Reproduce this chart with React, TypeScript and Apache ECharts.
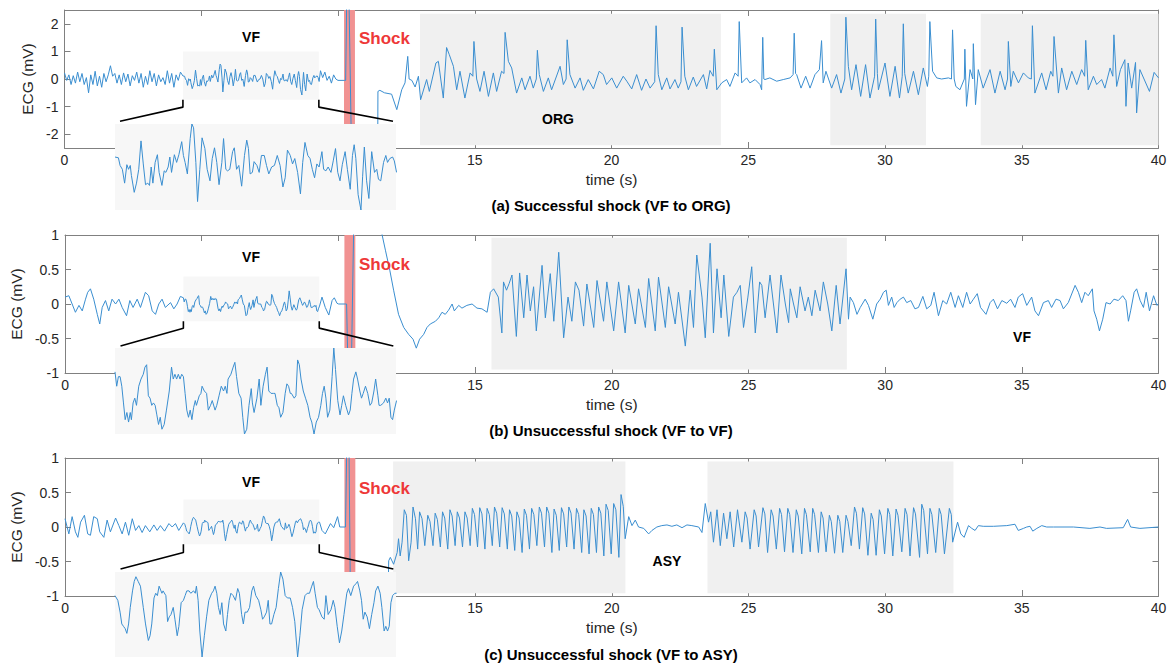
import React, { useEffect, useRef } from "react";
import * as echarts from "echarts";

// ---------------- DATA (time in s, ECG in mV) ----------------
// Panel (a): pre-shock VF before the zoom window, uniform sampling
const A_PRE_DT = 0.08;
const A_PRE: number[] = [
  0.22, -0.05, 0.15, -0.2, 0.12, -0.15, 0.25, -0.1, 0.2, -0.2, 0.05, -0.5, 0.15,
  -0.2, 0.28, -0.25, 0.1, -0.3, 0.2, -0.1, 0.15, 0.48, 0.1, 0.2, -0.15,
  0.15, -0.2, 0.22, -0.1, 0.18, -0.25, 0.12, -0.05, 0.25, -0.15, 0.2, -0.3, 0.1,
  -0.2, 0.3, -0.1, 0.2, -0.25, 0.15, -0.1, 0.05, -0.2, 0.3, -0.15, 0.2,
  -0.3, 0.15, -0.05, 0.25,
];
// Panel (a): VF window (zoomed in the inset)
const A_VF: number[][] = [
  [4.33, 0.11], [4.39, 0.1], [4.42, 0.0], [4.46, -0.05], [4.5, -0.23], [4.54, 0.01], [4.57, -0.05], [4.6, 0.0],
  [4.62, -0.13], [4.67, -0.35], [4.71, -0.23], [4.75, -0.05], [4.79, 0.32], [4.83, 0.02], [4.87, -0.25],
  [4.91, -0.23], [4.94, -0.26], [4.97, -0.02], [5.0, -0.23], [5.04, 0.04], [5.08, 0.14], [5.11, -0.09],
  [5.16, -0.26], [5.2, -0.07], [5.23, -0.09], [5.27, -0.02], [5.3, 0.11], [5.33, -0.09], [5.38, 0.14],
  [5.42, 0.04], [5.46, 0.14], [5.51, 0.31], [5.54, 0.13], [5.57, 0.04], [5.61, -0.11], [5.66, 0.35],
  [5.69, 0.54], [5.72, 0.49], [5.76, 0.04], [5.79, -0.47], [5.83, -0.05], [5.87, 0.36], [5.92, 0.22],
  [5.96, -0.05], [6.01, -0.2], [6.05, 0.09], [6.09, 0.23], [6.13, 0.04], [6.17, -0.25], [6.22, 0.04],
  [6.25, 0.35], [6.29, -0.05], [6.32, -0.07], [6.36, -0.05], [6.41, 0.18], [6.44, 0.23], [6.48, -0.05],
  [6.52, 0.0], [6.57, -0.27], [6.62, 0.13], [6.66, 0.33], [6.69, 0.22], [6.72, -0.11], [6.76, -0.09],
  [6.79, 0.05], [6.84, 0.0], [6.88, -0.09], [6.92, 0.13], [6.97, 0.13], [7.01, 0.0], [7.05, -0.11],
  [7.1, -0.02], [7.15, 0.0], [7.2, 0.13], [7.25, 0.0], [7.3, -0.28], [7.34, -0.16], [7.38, 0.2],
  [7.43, 0.13], [7.47, 0.02], [7.51, 0.09], [7.56, -0.09], [7.61, -0.37], [7.65, 0.04], [7.69, 0.3],
  [7.74, 0.13], [7.78, 0.09], [7.82, -0.05], [7.86, -0.16], [7.9, 0.02], [7.94, -0.02], [7.99, 0.18],
  [8.02, -0.05], [8.06, -0.07], [8.1, -0.02], [8.15, -0.09], [8.19, 0.06], [8.23, 0.22], [8.27, -0.09],
  [8.31, -0.2], [8.35, 0.01], [8.4, 0.18], [8.44, -0.05], [8.49, -0.31], [8.53, 0.13], [8.56, 0.27],
  [8.59, 0.09], [8.63, -0.38], [8.68, -0.58], [8.71, -0.14], [8.74, 0.24], [8.78, -0.2], [8.82, -0.43],
  [8.87, 0.18], [8.92, -0.09], [8.96, -0.05], [8.99, -0.18], [9.03, -0.2], [9.08, 0.04], [9.12, 0.13],
  [9.15, 0.04], [9.19, 0.09], [9.24, 0.11], [9.27, 0.06], [9.31, -0.09],
];
const A_PRE2: number[][] = [
  [9.36, 0.3], [9.44, 0.05], [9.52, 0.25], [9.6, -0.05], [9.68, 0.1], [9.76, -0.15], [9.84, 0.15],
  [9.92, 0], [10.0, -0.05], [10.24, -0.05],
];
const A_SHOCK: number[][] = [[10.28, -0.05], [10.32, 3], [10.4, 3], [10.5, -3], [11.45, -3]];
const A_POST: number[][] = [
  [11.46, -0.45], [11.53, -0.41], [11.7, -0.5], [11.96, -0.55], [12.15, -1.11], [12.33, -0.39], [12.45, -0.14],
  [12.55, 0.82], [12.6, 0.0], [12.7, -0.05], [12.82, -0.29], [12.94, 0.1], [13.02, -0.75], [13.24, -0.02],
  [13.34, -0.45], [13.58, 0.58], [13.67, 0.64], [13.85, -0.69], [13.97, 1.14], [14.07, 0.88], [14.22, 0.46],
  [14.34, -0.39], [14.46, 0.28], [14.64, -0.69], [14.83, 0.22], [14.93, 0.1], [14.97, 1.36], [15.07, 0.0],
  [15.19, -0.45], [15.34, 0.28], [15.5, -0.63], [15.68, 0.22], [15.8, -0.45], [15.98, 0.28], [16.07, 0.2],
  [16.11, 1.69], [16.23, 0.64], [16.35, 0.4], [16.53, -0.51], [16.72, 0.04], [16.84, -0.39], [17.02, 0.1],
  [17.14, -0.33], [17.25, 0.0], [17.29, 1.04], [17.36, 0.16], [17.51, -0.45], [17.69, 0.04], [17.81, -0.39],
  [18.12, 0.46], [18.24, -0.2], [18.34, 0.0], [18.38, 1.42], [18.48, 0.16], [18.67, -0.33], [18.85, 0.04],
  [18.97, -0.41], [19.15, -0.02], [19.34, -0.36], [19.55, 0.28], [19.7, 0.16], [19.82, -0.2], [20.01, 0.04],
  [20.19, -0.33], [20.43, 0.1], [20.56, -0.08], [20.74, -0.36], [20.92, 0.16], [21.1, -0.41], [21.26, 0.0],
  [21.41, -0.33], [21.58, -0.1], [21.63, 1.93], [21.71, 0.16], [21.84, -0.39], [22.02, 0.04], [22.14, -0.36],
  [22.32, -0.02], [22.44, -0.33], [22.54, -0.1], [22.58, 1.88], [22.68, 0.1], [22.81, -0.39], [22.99, 0.07],
  [23.11, -0.27], [23.36, 0.16], [23.48, -0.36], [23.6, 0.31], [23.72, 0.1], [23.76, 1.08], [23.85, -0.39],
  [24.03, -0.14], [24.21, -0.02], [24.33, -0.27], [24.52, 0.22], [24.63, 0.1], [24.67, 2.08],
  [24.76, -0.14], [24.94, 0.04], [25.06, -0.14], [25.25, -0.02], [25.43, -0.2], [25.49, -0.39], [25.53, 1.51],
  [25.57, 0], [25.61, -0.02], [25.79, 0.04], [26.04, -0.08], [26.28, -0.02], [26.53, 0.04], [26.64, 0.16],
  [26.68, 1.66], [26.73, 0.2], [26.77, 0.16], [26.93, -0.33], [27.1, 0.1], [27.26, -0.33], [27.44, 0.16],
  [27.6, 0.34], [27.68, 1.39], [27.74, -0.14], [27.84, 0.28], [28.05, -0.33], [28.23, 0.16], [28.39, -0.51],
  [28.53, 0.0], [28.57, 2.24], [28.66, 0.46], [28.78, -0.39], [28.94, 0.52], [29.11, -0.63], [29.29, 0.52],
  [29.45, -0.69], [29.62, 0.1], [29.66, 2.17], [29.72, 0.2], [29.76, -0.39], [30.0, 0.58], [30.18, -0.63],
  [30.37, 0.46], [30.53, -0.69], [30.63, 0.1], [30.67, 2.0], [30.72, 0.2], [30.85, -0.51], [31.04, 0.28],
  [31.22, -0.57], [31.4, 0.4], [31.55, -0.27], [31.6, 0.1], [31.64, 2.08], [31.74, 0.28], [31.89, 0.04],
  [32.07, 0.0], [32.32, 0.04], [32.43, 0.0], [32.47, 1.78], [32.53, 0.0], [32.59, -0.27], [32.74, -0.39],
  [32.9, 0.0], [32.92, 1.08], [32.98, -0.99], [33.11, 0.34], [33.21, 0.0], [33.23, 1.28], [33.31, -0.93],
  [33.41, 0.34], [33.59, -0.33], [33.84, 0.34], [34.02, -0.51], [34.21, 0.28], [34.39, -0.39], [34.48, 0.0],
  [34.51, 1.36], [34.6, -0.27], [34.69, 0.28], [34.88, -0.14], [35.06, 0.22], [35.24, 0.04], [35.35, 0.0],
  [35.39, 1.93], [35.48, -0.51], [35.73, 0.22], [35.89, -0.39], [36.06, 0.28], [36.14, 0.1], [36.18, 1.54],
  [36.34, -0.51], [36.46, 0.4], [36.64, -0.39], [36.83, 0.28], [37.01, -0.2], [37.19, 0.34], [37.3, 0.1],
  [37.34, 1.4], [37.43, -0.39], [37.62, 0.1], [37.74, -0.2], [37.92, -0.02], [38.04, -0.33], [38.23, 0.4],
  [38.33, 0.1], [38.37, 1.6], [38.47, -0.27], [38.61, 0.34], [38.77, 0.7], [38.81, -0.99], [38.89, 0.58],
  [39.02, -0.33], [39.16, 0.6], [39.2, -1.23], [39.32, 0.34], [39.67, -0.45], [39.84, 0.24], [40.0, 0.04],
];

// Panel (b)
const B_PRE: number[][] = [
  [0, 0.1], [0.14, 0.12], [0.26, 0], [0.38, -0.12], [0.51, -0.02], [0.63, -0.1], [0.75, 0.07], [0.83, 0.17],
  [0.93, 0.22], [1.05, 0.07], [1.18, -0.15], [1.27, -0.29], [1.36, -0.05], [1.48, 0.05], [1.6, -0.1],
  [1.72, 0.07], [1.85, 0], [1.97, 0.07], [2.09, -0.05], [2.25, -0.17], [2.37, 0.05], [2.49, -0.05],
  [2.64, 0.07], [2.76, -0.05], [2.94, 0.17], [3.06, 0.12], [3.19, -0.1], [3.31, -0.15], [3.43, 0],
  [3.55, 0.07], [3.67, -0.05], [3.86, 0.02], [3.98, -0.07], [4.1, 0], [4.22, 0.11],
];
const B_VF: number[][] = [
  [4.33, 0.09], [4.36, 0.03], [4.39, 0.07], [4.42, 0.07], [4.45, 0.03], [4.48, -0.04], [4.51, -0.11],
  [4.54, -0.08], [4.57, -0.12], [4.6, -0.08], [4.62, -0.11], [4.65, -0.04], [4.68, -0.02], [4.71, -0.05],
  [4.75, 0.03], [4.79, 0.06], [4.83, 0.08], [4.86, 0.11], [4.89, 0.12], [4.92, -0.01], [4.95, -0.02],
  [4.98, -0.05], [5.01, -0.04], [5.04, -0.05], [5.07, -0.09], [5.1, -0.13], [5.13, -0.1], [5.16, -0.15],
  [5.2, -0.13], [5.24, -0.07], [5.29, 0.01], [5.33, 0.11], [5.36, 0.06], [5.39, 0.08], [5.42, 0.06],
  [5.45, 0.08], [5.48, 0.06], [5.51, 0.08], [5.54, 0.07], [5.57, 0.0], [5.6, -0.07], [5.63, -0.1],
  [5.66, -0.07], [5.69, -0.11], [5.72, -0.06], [5.75, -0.03], [5.77, -0.05], [5.82, -0.01], [5.85, 0.0],
  [5.87, 0.03], [5.91, 0.01], [5.95, 0.0], [5.98, -0.07], [6.02, -0.05], [6.05, -0.03], [6.1, -0.07],
  [6.13, -0.05], [6.17, -0.01], [6.21, 0.03], [6.25, 0.01], [6.28, 0.03], [6.31, 0.0], [6.33, 0.06],
  [6.38, 0.08], [6.42, 0.11], [6.45, 0.13], [6.48, 0.07], [6.52, 0.0], [6.56, -0.02], [6.59, -0.1],
  [6.62, -0.17], [6.66, -0.15], [6.7, -0.05], [6.74, 0.02], [6.76, -0.04], [6.79, -0.08], [6.84, -0.02],
  [6.88, 0.06], [6.91, -0.05], [6.95, 0.03], [6.99, 0.08], [7.02, 0.11], [7.05, 0.01], [7.09, 0.0],
  [7.13, 0.0], [7.16, 0.0], [7.2, -0.05], [7.23, -0.06], [7.26, -0.1], [7.3, -0.08], [7.34, 0.0],
  [7.37, 0.04], [7.4, 0.03], [7.43, 0.0], [7.45, 0.0], [7.5, -0.02], [7.53, -0.01], [7.56, 0.14],
  [7.59, 0.12], [7.62, 0.06], [7.66, 0.01], [7.7, -0.02], [7.74, -0.05], [7.78, -0.1], [7.81, -0.12],
  [7.85, -0.17], [7.89, -0.12], [7.93, -0.1], [7.97, -0.05], [8.0, 0.0], [8.03, 0.03], [8.06, -0.02],
  [8.09, -0.1], [8.13, -0.07], [8.17, 0.07], [8.2, 0.19], [8.23, 0.1], [8.27, -0.03], [8.31, -0.09],
  [8.34, -0.05], [8.37, -0.01], [8.41, -0.05], [8.46, -0.09], [8.49, -0.07], [8.52, 0.0], [8.55, 0.06],
  [8.59, 0.09], [8.62, 0.06], [8.66, 0.01], [8.69, -0.02], [8.72, 0.0], [8.76, 0.03], [8.8, 0.0],
  [8.84, -0.05], [8.87, -0.04], [8.91, 0.01], [8.94, 0.06], [8.98, -0.01], [9.0, -0.05], [9.03, -0.05],
  [9.08, -0.04], [9.12, -0.02], [9.15, -0.04], [9.18, -0.02], [9.21, -0.1], [9.24, -0.11], [9.27, -0.07],
  [9.31, -0.03],
];
const B_PRE2: number[][] = [
  [9.4, 0.1], [9.52, -0.05], [9.65, -0.16], [9.77, 0.05], [9.85, 0.09], [9.95, 0.01], [10.01, 0], [10.26, 0],
];
const B_SHOCK: number[][] = [[10.3, 0], [10.38, -1.5], [10.45, -1.5], [10.58, 1.6], [11.3, 1.6], [11.5, 1.2]];
const B_POST: number[][] = [
  [11.6, 1.0], [11.72, 0.78], [11.88, 0.49], [12.02, 0.2], [12.2, -0.15], [12.39, -0.34], [12.57, -0.44],
  [12.73, -0.51], [12.85, -0.64], [12.97, -0.51], [13.12, -0.44], [13.24, -0.34], [13.36, -0.29],
  [13.55, -0.25], [13.67, -0.2], [13.79, -0.12], [13.91, -0.15], [14.03, -0.09], [14.16, 0], [14.24, -0.1],
  [14.4, -0.02], [14.52, -0.06], [14.7, -0.02], [14.89, 0], [15.07, -0.06], [15.25, -0.07], [15.44, -0.12],
  [15.56, 0.17], [15.68, 0.22], [15.85, 0.1], [15.98, -0.42], [16.04, 0.32], [16.15, 0.2], [16.25, 0.3],
  [16.35, 0.42], [16.51, -0.47], [16.63, 0.45], [16.78, -0.2], [16.9, 0.42], [17.02, -0.1], [17.14, 0.25],
  [17.24, -0.39], [17.45, 0.56], [17.57, -0.2], [17.75, 0.44], [17.88, -0.25], [18.06, 0.75], [18.24, -0.49],
  [18.4, 0.1], [18.54, -0.25], [18.67, 0.32], [18.8, 0.2], [18.97, -0.32], [19.09, 0.29], [19.34, -0.34],
  [19.46, 0.34], [19.7, -0.25], [19.82, 0.32], [20.07, -0.39], [20.25, 0.32], [20.49, -0.42], [20.62, 0.27],
  [20.86, -0.29], [20.98, 0.22], [21.23, -0.34], [21.35, 0.37], [21.59, -0.39], [21.71, 0.39], [21.96, -0.34],
  [22.08, 0.25], [22.32, -0.29], [22.44, 0.17], [22.69, -0.61], [22.87, 0.2], [22.99, -0.34], [23.11, 0.71],
  [23.3, 0.1], [23.42, -0.49], [23.6, 0.88], [23.72, -0.42], [23.85, 0.51], [24.0, -0.2], [24.1, 0.42],
  [24.28, -0.47], [24.45, 0.1], [24.58, 0.17],
  [24.7, 0.27], [24.82, -0.34], [24.98, 0.1], [25.12, 0.54], [25.25, -0.42], [25.41, 0.32], [25.49, 0.27],
  [25.61, -0.2], [25.79, 0.42], [26.04, -0.42], [26.19, 0.42], [26.35, 0.0], [26.47, -0.27], [26.53, 0.22],
  [26.65, 0.0], [26.77, -0.2], [26.89, 0.25], [27.07, -0.1], [27.19, 0.1], [27.32, -0.17], [27.44, 0.2],
  [27.62, -0.1], [27.74, 0.32], [27.9, 0.0], [28.05, -0.39], [28.21, 0.27], [28.35, -0.29], [28.57, 0.51],
  [28.66, -0.22],
  [28.72, 0.1], [28.84, 0.02], [28.97, -0.15], [29.09, -0.05], [29.27, 0.07], [29.39, -0.02], [29.55, -0.22],
  [29.69, 0], [29.82, 0.07], [29.94, 0.17], [30.04, 0.2], [30.12, -0.02], [30.24, 0.1], [30.33, -0.05],
  [30.43, 0.02], [30.55, 0.07], [30.67, 0.1], [30.79, 0.02], [30.94, 0.05], [31.09, -0.07], [31.22, -0.05],
  [31.38, 0.11], [31.52, -0.07], [31.67, -0.02], [31.79, 0.17], [31.95, -0.17], [32.11, 0.05], [32.25, 0],
  [32.4, 0.17], [32.56, -0.05], [32.68, 0.12], [32.84, -0.05], [32.98, 0.17], [33.11, 0], [33.23, 0.07],
  [33.37, 0.15], [33.49, -0.05], [33.69, -0.15], [33.84, 0.02], [33.96, 0.07], [34.11, -0.07], [34.27, 0.05],
  [34.45, 0.01], [34.59, 0.07], [34.75, -0.05], [34.87, 0.1], [35.03, 0.15], [35.18, -0.02], [35.36, 0.1],
  [35.48, -0.1], [35.61, -0.17], [35.79, 0.02], [35.97, 0.05], [36.09, -0.05], [36.25, 0.07], [36.4, 0.05],
  [36.52, -0.07], [36.7, 0.02], [36.95, 0.27], [37.07, 0.17], [37.19, 0.02], [37.31, 0.17], [37.43, 0.12],
  [37.58, 0.22], [37.64, -0.1], [37.74, -0.22], [37.84, -0.39], [37.96, -0.22], [38.08, 0.02], [38.23, 0],
  [38.37, 0.07], [38.53, 0.05], [38.69, 0.12], [38.81, 0.05], [38.9, -0.25], [38.98, -0.1], [39.11, 0.17],
  [39.2, 0.22], [39.33, 0.05], [39.45, -0.05], [39.55, 0.17], [39.67, -0.1], [39.82, 0.12], [39.94, -0.02],
  [40.0, 0],
];

// Panel (c)
const C_PRE: number[][] = [
  [0, 0.12], [0.14, -0.1], [0.26, 0.15], [0.38, -0.07], [0.47, -0.15], [0.57, 0.07], [0.71, 0.17], [0.83, -0.1],
  [0.93, -0.12], [1.05, 0.15], [1.18, 0.12], [1.27, -0.07], [1.42, -0.15], [1.54, 0.1], [1.66, -0.07],
  [1.85, 0.13], [1.97, 0.02], [2.09, -0.1], [2.21, 0.07], [2.33, -0.12], [2.46, 0.12], [2.58, -0.05],
  [2.7, 0.02], [2.82, -0.08], [2.94, 0.02], [3.1, -0.07], [3.25, 0.03], [3.37, -0.05], [3.49, 0.02],
  [3.64, -0.06], [3.8, 0.05], [3.92, 0], [4.04, 0.05], [4.16, -0.05],
];
const C_VF: number[][] = [
  [4.33, 0.06], [4.38, 0.04], [4.42, -0.01], [4.45, -0.06], [4.48, -0.07], [4.51, -0.08], [4.54, -0.1],
  [4.57, -0.06], [4.6, 0.01], [4.64, 0.08], [4.67, 0.12], [4.7, 0.14], [4.74, 0.12], [4.78, 0.1],
  [4.83, 0.01], [4.87, -0.06], [4.92, -0.13], [4.95, -0.11], [4.98, -0.06], [5.02, 0.05], [5.05, 0.07],
  [5.08, 0.06], [5.11, 0.1], [5.16, 0.07], [5.18, 0.08], [5.23, 0.06], [5.26, -0.05], [5.29, -0.03],
  [5.32, -0.02], [5.36, 0.01], [5.39, -0.04], [5.43, -0.11], [5.46, -0.07], [5.5, 0.03], [5.54, 0.04],
  [5.57, 0.06], [5.6, 0.08], [5.64, 0.08], [5.67, 0.07], [5.72, 0.08], [5.75, 0.07], [5.77, 0.1],
  [5.8, 0.04], [5.83, -0.09], [5.87, -0.2], [5.91, -0.11], [5.95, -0.03], [5.99, 0.04], [6.04, 0.07],
  [6.07, 0.08], [6.1, 0.1], [6.13, 0.07], [6.16, 0.01], [6.19, -0.02], [6.22, 0.03], [6.25, -0.06],
  [6.29, -0.09], [6.32, -0.02], [6.35, 0.04], [6.38, 0.07], [6.42, 0.06], [6.46, 0.04], [6.5, 0.09],
  [6.53, 0.07], [6.57, -0.02], [6.6, -0.06], [6.63, -0.01], [6.67, -0.01], [6.71, 0.01], [6.75, 0.08],
  [6.78, 0.1], [6.82, 0.06], [6.87, 0.04], [6.91, 0.0], [6.94, -0.04], [6.97, -0.03], [7.01, -0.01],
  [7.04, 0.04], [7.07, -0.06], [7.1, -0.06], [7.14, -0.02], [7.18, 0.01], [7.22, 0.09], [7.26, 0.16],
  [7.3, 0.13], [7.34, 0.06], [7.38, 0.05], [7.43, 0.05], [7.47, 0.01], [7.51, -0.05], [7.56, -0.2],
  [7.6, -0.11], [7.64, 0.0], [7.69, 0.06], [7.73, 0.07], [7.77, 0.07], [7.81, 0.1], [7.84, 0.12],
  [7.87, 0.07], [7.91, 0.01], [7.94, 0.0], [7.99, -0.03], [8.03, -0.04], [8.06, 0.06], [8.1, -0.02],
  [8.15, 0.0], [8.19, 0.04], [8.22, 0.01], [8.26, -0.07], [8.3, -0.14], [8.34, -0.09], [8.38, -0.02],
  [8.43, 0.07], [8.46, 0.09], [8.5, 0.06], [8.55, 0.1], [8.59, 0.11], [8.62, 0.12], [8.66, 0.08],
  [8.69, 0.04], [8.72, -0.04], [8.75, -0.01], [8.79, -0.03], [8.83, -0.08], [8.87, -0.02], [8.91, 0.03],
  [8.94, 0.08], [8.98, 0.1], [9.02, 0.07], [9.05, 0.01], [9.09, -0.09], [9.12, -0.07], [9.15, -0.09],
  [9.18, -0.07], [9.21, 0.03], [9.24, 0.06], [9.28, 0.07], [9.31, 0.07],
];
const C_PRE2: number[][] = [
  [9.4, -0.05], [9.52, -0.1], [9.71, 0.05], [9.83, -0.01], [9.97, 0.15], [10.05, 0], [10.26, 0],
];
const C_SHOCK: number[][] = [[10.28, 0], [10.32, 1.5], [10.38, 1.5], [10.45, -1.5], [11.8, -1.5]];
const C_POST: number[][] = [
  [11.84, -0.49], [11.9, -0.44], [12.02, -0.54], [12.15, -0.37], [12.2, -0.17], [12.26, -0.42], [12.33, -0.22],
  [12.41, 0.25], [12.49, 0.17], [12.57, -0.49], [12.66, -0.22], [12.73, 0.29], [12.82, 0.12], [12.9, -0.32],
  [12.97, 0.22], [13.06, 0.12], [13.16, -0.27],
  [13.27, 0.17], [13.35, 0.08], [13.46, -0.27], [13.54, 0.2], [13.62, 0.11], [13.73, -0.29],
  [13.81, 0.22], [13.89, 0.13], [14.0, -0.32], [14.08, 0.25], [14.16, 0.16], [14.27, -0.27],
  [14.35, 0.22], [14.43, 0.13], [14.54, -0.29], [14.63, 0.22], [14.71, 0.13], [14.82, -0.27],
  [14.9, 0.27], [14.98, 0.18], [15.09, -0.29], [15.17, 0.28], [15.25, 0.19], [15.36, -0.32],
  [15.44, 0.27], [15.52, 0.18], [15.63, -0.27], [15.71, 0.29], [15.79, 0.2], [15.9, -0.29],
  [15.99, 0.28], [16.07, 0.19], [16.18, -0.32], [16.26, 0.25], [16.34, 0.16], [16.45, -0.34],
  [16.53, 0.22], [16.61, 0.13], [16.72, -0.37], [16.8, 0.26], [16.88, 0.17], [16.99, -0.32],
  [17.07, 0.27], [17.15, 0.18], [17.26, -0.27], [17.35, 0.29], [17.43, 0.2], [17.54, -0.29],
  [17.62, 0.29], [17.7, 0.2], [17.81, -0.37], [17.89, 0.26], [17.97, 0.17], [18.08, -0.34],
  [18.16, 0.28], [18.24, 0.19], [18.35, -0.29], [18.43, 0.29], [18.51, 0.2], [18.62, -0.32],
  [18.71, 0.27], [18.79, 0.18], [18.9, -0.37], [18.98, 0.25], [19.06, 0.16], [19.17, -0.39],
  [19.25, 0.27], [19.33, 0.18], [19.44, -0.37], [19.52, 0.29], [19.6, 0.2], [19.71, -0.42],
  [19.79, 0.33], [19.87, 0.24], [19.98, -0.39], [20.07, 0.34], [20.15, 0.25], [20.26, -0.44],
  [20.34, 0.47], [20.42, 0.3], [20.49, -0.17],
  [20.62, 0.15], [20.74, 0.02], [20.86, 0.1], [20.98, 0], [21.17, -0.02], [21.35, -0.1], [21.47, -0.05],
  [21.65, 0], [21.83, 0.02], [22.02, 0.03], [22.2, 0.01], [22.38, 0.03], [22.57, -0.01], [22.75, 0.03],
  [22.93, 0.02], [23.18, 0], [23.3, -0.08],
  [23.42, 0.34], [23.54, 0.07], [23.62, 0.22], [23.72, -0.22], [23.85, 0.25], [23.97, -0.27], [24.09, 0.2],
  [24.21, -0.17], [24.33, 0.22], [24.46, -0.29], [24.6, 0.25], [24.76, -0.22],
  [24.88, 0.22], [24.95, 0.13], [25.06, -0.32], [25.21, 0.25], [25.28, 0.16], [25.37, -0.29],
  [25.53, 0.28], [25.6, 0.19], [25.7, -0.37], [25.83, 0.25], [25.9, 0.16], [26.02, -0.32],
  [26.14, 0.27], [26.21, 0.18], [26.32, -0.36], [26.44, 0.27], [26.51, 0.18], [26.63, -0.37],
  [26.75, 0.25], [26.82, 0.16], [26.95, -0.39], [27.05, 0.27], [27.12, 0.18], [27.26, -0.36],
  [27.35, 0.27], [27.42, 0.18], [27.56, -0.37], [27.66, 0.22], [27.73, 0.13], [27.84, -0.36],
  [27.96, 0.17], [28.03, 0.08], [28.15, -0.38], [28.27, 0.17], [28.34, 0.08], [28.45, -0.37],
  [28.57, 0.17], [28.64, 0.08], [28.76, -0.27], [28.88, 0.29], [28.95, 0.2], [29.06, -0.32],
  [29.18, 0.28], [29.25, 0.19], [29.37, -0.41], [29.49, 0.2], [29.56, 0.11], [29.67, -0.41],
  [29.79, 0.25], [29.86, 0.16], [29.98, -0.39], [30.1, 0.27], [30.17, 0.18], [30.28, -0.42],
  [30.4, 0.26], [30.47, 0.17], [30.61, -0.36], [30.73, 0.27], [30.8, 0.18], [30.91, -0.42],
  [31.04, 0.28], [31.11, 0.19], [31.26, -0.44], [31.34, 0.33], [31.41, 0.24], [31.55, -0.39],
  [31.64, 0.27], [31.71, 0.18], [31.85, -0.37], [31.98, 0.27], [32.05, 0.18], [32.17, -0.39],
  [32.35, 0.27], [32.42, 0.18], [32.47, -0.22],
  [32.65, 0.07], [32.77, -0.1], [32.89, -0.15], [33.05, 0.02], [33.17, -0.02], [33.29, -0.05], [33.41, 0.02],
  [33.59, 0.01], [33.96, 0.01], [34.45, 0.02], [34.75, 0.04], [34.87, -0.05], [35.06, -0.02], [35.18, 0],
  [35.3, 0.01], [35.4, -0.06], [35.55, -0.02], [35.73, 0.02], [35.91, 0], [36.16, 0], [36.89, 0],
  [37.49, -0.02], [37.86, 0], [38.1, -0.02], [38.71, -0.01], [38.87, 0.11], [38.98, 0], [39.32, -0.02],
  [40, 0],
];

// annotated intervals (s)
const VF_WINDOW = [4.33, 9.3];
const SHOCK_WINDOW = [10.22, 10.62];
const ORG_A = [[13.0, 24.0], [28.0, 31.5], [33.5, 40.0]];
const VF_B = [[15.6, 28.6]];
const VF_C = [[12.0, 20.5], [23.5, 32.5]];
const X_TICKS = [0, 40, 5];
const Y_TICKS_A = [-2, -1, 0, 1, 2];

// ---------------- STYLE / LAYOUT ----------------
const FONT = '"Liberation Sans", Arial, Helvetica, sans-serif';
const AXIS_COLOR = "#808080";
const TEXT_COLOR = "#262626";
const LINE_COLOR = "#3a8ed0";
const GRID_LEFT = 64.5;
const GRID_W = 1094;
const GRID_H = 138;
const GRID_TOPS = [10, 235, 458];
const INSET_LEFT = 115;
const INSET_W = 281;
const INSET_TOPS = [124, 348, 572];
const INSET_HS = [86, 86, 85];

const toPairs = (vals: number[], dt: number) => vals.map((v, i) => [Math.round(i * dt * 100) / 100, v]);

const SIG_A = [...toPairs(A_PRE, A_PRE_DT), ...A_VF, ...A_PRE2, ...A_SHOCK, ...A_POST];
const SIG_B = [...B_PRE, ...B_VF, ...B_PRE2, ...B_SHOCK, ...B_POST];
const SIG_C = [...C_PRE, ...C_VF, ...C_PRE2, ...C_SHOCK, ...C_POST];

const PANELS = [
  {
    sig: SIG_A, yMin: -2.5, yMax: 2.5, yTicks: Y_TICKS_A, nameGap: 22,
    boxes: ORG_A, boxY: [-2.4, 2.36], vfBoxY: [-0.75, 1], shockY: [-1.64, 2.5],
    conn: { yKnee: -1.02, yEnd: -1.53, xL: 2.03, xR: 12.01 },
  },
  {
    sig: SIG_B, yMin: -1, yMax: 1, yTicks: null, nameGap: 36,
    boxes: VF_B, boxY: [-0.95, 0.96], vfBoxY: [-0.25, 0.4], shockY: [-0.66, 1],
    conn: { yKnee: -0.35, yEnd: -0.61, xL: 2.03, xR: 12.01 },
  },
  {
    sig: SIG_C, yMin: -1, yMax: 1, yTicks: null, nameGap: 36,
    boxes: VF_C, boxY: [-0.96, 0.95], vfBoxY: [-0.25, 0.4], shockY: [-0.67, 1],
    conn: { yKnee: -0.37, yEnd: -0.61, xL: 2.03, xR: 12.01 },
  },
];

const CAPTIONS = [
  { text: "(a) Successful shock (VF to ORG)", y: 205 },
  { text: "(b) Unsuccessful shock (VF to VF)", y: 430 },
  { text: "(c) Unsuccessful shock (VF to ASY)", y: 654 },
];
const LABELS = [
  { text: "VF", x: 251, y: 37 },
  { text: "VF", x: 251, y: 257 },
  { text: "VF", x: 251, y: 482 },
  { text: "ORG", x: 558, y: 119 },
  { text: "VF", x: 1022, y: 337 },
  { text: "ASY", x: 667, y: 561 },
];
const SHOCK_LABEL_YS = [38, 264, 488];

function buildOption() {
  const grid: any[] = [];
  const xAxis: any[] = [];
  const yAxis: any[] = [];
  const series: any[] = [];
  const axisLine = { show: true, onZero: false, lineStyle: { color: AXIS_COLOR, width: 1 } };
  const tick = { show: true, inside: true, length: 6, lineStyle: { color: AXIS_COLOR, width: 1 } };

  PANELS.forEach((p, i) => {
    grid.push({ left: GRID_LEFT, top: GRID_TOPS[i], width: GRID_W, height: GRID_H, containLabel: false });
    xAxis.push({
      type: "value", gridIndex: i, min: X_TICKS[0], max: X_TICKS[1], interval: X_TICKS[2],
      position: "bottom", axisLine, axisTick: tick, splitLine: { show: false },
      axisLabel: { color: TEXT_COLOR, fontSize: 14, fontFamily: FONT, margin: 5 },
      name: "time (s)", nameLocation: "middle", nameGap: 23,
      nameTextStyle: { color: TEXT_COLOR, fontSize: 15.5, fontFamily: FONT },
    });
    xAxis.push({
      type: "value", gridIndex: i, min: X_TICKS[0], max: X_TICKS[1], interval: X_TICKS[2],
      position: "top", axisLine, axisTick: tick, splitLine: { show: false }, axisLabel: { show: false },
    });
    const yLabel: any = { color: TEXT_COLOR, fontSize: 14, fontFamily: FONT, margin: 6 };
    const yTick: any = { ...tick };
    const yBase: any = { type: "value", gridIndex: i, min: p.yMin, max: p.yMax, splitLine: { show: false }, axisLine };
    if (p.yTicks) {
      yLabel.customValues = p.yTicks;
      yTick.customValues = p.yTicks;
    } else {
      yBase.interval = 0.5;
    }
    yAxis.push({
      ...yBase, position: "left", axisTick: yTick, axisLabel: yLabel,
      name: "ECG (mV)", nameLocation: "middle", nameGap: p.nameGap,
      nameTextStyle: { color: TEXT_COLOR, fontSize: 15.5, fontFamily: FONT },
    });
    yAxis.push({ ...yBase, position: "right", axisTick: yTick, axisLabel: { ...yLabel, show: false } });
  });

  PANELS.forEach((p, i) => {
    grid.push({
      left: INSET_LEFT, top: INSET_TOPS[i], width: INSET_W, height: INSET_HS[i],
      show: true, backgroundColor: "#f7f7f7", borderWidth: 0, z: 5,
    });
    xAxis.push({ type: "value", gridIndex: 3 + i, min: VF_WINDOW[0], max: VF_WINDOW[1], show: false });
    yAxis.push({ type: "value", gridIndex: 3 + i, min: "dataMin", max: "dataMax", show: false, scale: true });
  });

  PANELS.forEach((p, i) => {
    const xi = i * 2;
    const yi = i * 2;
    const areas: any[] = [];
    p.boxes.forEach((b) =>
      areas.push([
        { xAxis: b[0], yAxis: p.boxY[0], itemStyle: { color: "#f0f0f0" } },
        { xAxis: b[1], yAxis: p.boxY[1] },
      ])
    );
    areas.push([
      { xAxis: VF_WINDOW[0], yAxis: p.vfBoxY[0], itemStyle: { color: "#f7f7f7" } },
      { xAxis: VF_WINDOW[1], yAxis: p.vfBoxY[1] },
    ]);
    areas.push([
      { xAxis: SHOCK_WINDOW[0], yAxis: p.shockY[0], itemStyle: { color: "#f19292" } },
      { xAxis: SHOCK_WINDOW[1], yAxis: p.shockY[1] },
    ]);
    series.push({
      type: "line", xAxisIndex: xi, yAxisIndex: yi, data: p.sig, symbol: "none", showSymbol: false,
      lineStyle: { color: LINE_COLOR, width: 1 }, z: 2, clip: true, silent: true,
      markArea: { silent: true, data: areas, label: { show: false } },
    });
    const c = p.conn;
    series.push({
      type: "line", xAxisIndex: xi, yAxisIndex: yi, symbol: "none", z: 4, silent: true,
      data: [[VF_WINDOW[0], p.vfBoxY[0]], [VF_WINDOW[0], c.yKnee], [c.xL, c.yEnd]],
      lineStyle: { color: "#000", width: 1.6 },
    });
    series.push({
      type: "line", xAxisIndex: xi, yAxisIndex: yi, symbol: "none", z: 4, silent: true,
      data: [[VF_WINDOW[1], p.vfBoxY[0]], [VF_WINDOW[1], c.yKnee], [c.xR, c.yEnd]],
      lineStyle: { color: "#000", width: 1.6 },
    });
    const inset = p.sig.filter((d) => d[0] >= VF_WINDOW[0] && d[0] <= VF_WINDOW[1] + 0.02);
    series.push({
      type: "line", xAxisIndex: 6 + i, yAxisIndex: 6 + i, data: inset,
      symbol: "none", lineStyle: { color: LINE_COLOR, width: 1 }, z: 6, clip: true, silent: true,
    });
  });

  const graphic: any[] = [];
  CAPTIONS.forEach((c) =>
    graphic.push({
      type: "text", x: 611, y: c.y, z: 20,
      style: { text: c.text, fill: "#000", font: `bold 15px ${FONT}`, align: "center", verticalAlign: "middle" },
    })
  );
  LABELS.forEach((l) =>
    graphic.push({
      type: "text", x: l.x, y: l.y, z: 20,
      style: { text: l.text, fill: "#000", font: `bold 14px ${FONT}`, align: "center", verticalAlign: "middle" },
    })
  );
  SHOCK_LABEL_YS.forEach((y) =>
    graphic.push({
      type: "text", x: 359, y, z: 20,
      style: { text: "Shock", fill: "#ee3838", font: `bold 17px ${FONT}`, align: "left", verticalAlign: "middle" },
    })
  );

  return { animation: false, backgroundColor: "#ffffff", grid, xAxis, yAxis, series, graphic };
}

export default function App() {
  const ref = useRef<HTMLDivElement>(null);
  useEffect(() => {
    document.body.style.margin = "0";
    if (!ref.current) return;
    const chart = echarts.init(ref.current, null, { renderer: "svg" });
    chart.setOption(buildOption() as any);
    return () => chart.dispose();
  }, []);
  return <div ref={ref} style={{ width: 1171, height: 665 }} />;
}
